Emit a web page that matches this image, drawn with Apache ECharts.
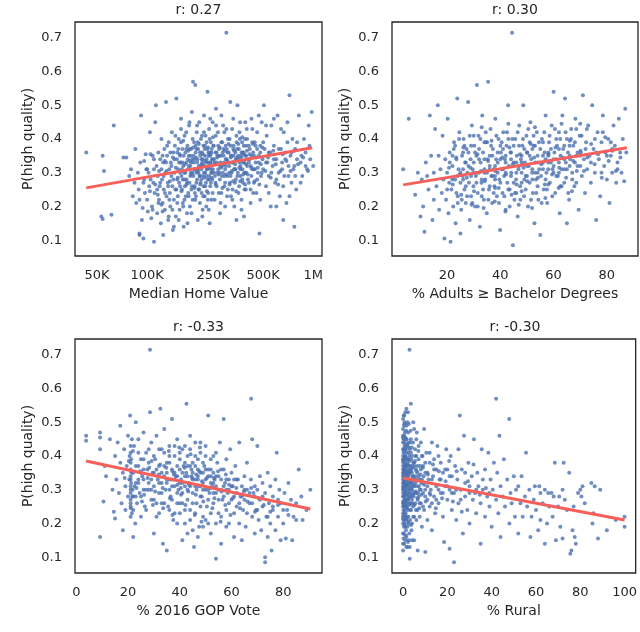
<!DOCTYPE html>
<html lang="en">
<head>
<meta charset="UTF-8">
<title>p-high-quality-scatter</title>
<style>
  html, body { margin: 0; padding: 0; background: #fff; }
  #chart { width: 640px; height: 632px; }
</style>
</head>
<body>
<div id="chart"></div>
<script src="https://cdn.jsdelivr.net/npm/echarts@6/dist/echarts.min.js"></script>
<script>
// ---- data ----
// panel 1: median home value (in K), P(high quality)
const homeValue = [
  [43,0.36],[53,0.17],[54,0.163],[54,0.35],[55,0.305],[63,0.44],[61,0.175],[72,0.345],[75,0.345],[78,0.29],[80,0.31],[82,0.23],[84,0.27],[85,0.37],[86,0.21],[88,0.3],[89,0.25],[90,0.12],[90,0.115],[91,0.33],[92,0.47],[93,0.16],[94,0.195],[95,0.105],[96,0.28],[97,0.24],[98,0.355],[99,0.31],
  [100,0.22],[101,0.185],[102,0.3],[103,0.26],[104,0.42],[105,0.355],[106,0.165],[107,0.2],[108,0.35],[109,0.27],[110,0.095],[110,0.31],[111,0.24],[112,0.45],[113,0.5],[114,0.32],[115,0.18],[116,0.29],[117,0.36],[118,0.22],[119,0.26],[120,0.34],[121,0.15],[122,0.4],[123,0.28],[124,0.21],[125,0.115],[125,0.33],[126,0.25],[127,0.37],[128,0.19],[129,0.3],[130,0.51],[131,0.23],[132,0.35],[133,0.27],[134,0.16],[135,0.39],[136,0.31],[137,0.24],[138,0.2],[139,0.33],[140,0.29],[141,0.42],[142,0.26],[143,0.13],[144,0.36],[145,0.22],[146,0.3],[147,0.38],[148,0.25],[149,0.17],
  [150,0.52],[151,0.34],[152,0.28],[153,0.23],[154,0.31],[155,0.4],[156,0.27],[157,0.19],[158,0.35],[159,0.33],[160,0.46],[161,0.29],[162,0.25],[163,0.37],[164,0.21],[165,0.32],[166,0.14],[167,0.3],[168,0.41],[169,0.26],[170,0.36],[171,0.23],[172,0.33],[173,0.28],[174,0.18],[175,0.38],[176,0.31],[177,0.24],[178,0.35],[179,0.44],[180,0.27],[181,0.2],[182,0.32],[183,0.3],[184,0.37],[185,0.25],[186,0.48],[187,0.34],[188,0.22],[189,0.57],[190,0.29],[191,0.33],[192,0.39],[193,0.26],[194,0.31],[195,0.56],[196,0.36],[197,0.23],[198,0.3],[199,0.42],[200,0.28],[201,0.34],[202,0.16],[203,0.37],[204,0.25],[205,0.32],[206,0.45],[207,0.29],[208,0.21],[209,0.35],[210,0.27],[211,0.4],[212,0.31],[213,0.24],[214,0.36],[215,0.33],[216,0.19],[217,0.29],[218,0.38],[219,0.26],[220,0.47],[221,0.32],[222,0.23],[223,0.35],[224,0.3],[225,0.41],[226,0.27],[227,0.2],[228,0.34],[229,0.31],[230,0.37],[231,0.54],[232,0.28],[233,0.24],[234,0.36],[235,0.32],[236,0.43],[237,0.29],[238,0.15],[239,0.35],[240,0.26],[241,0.33],[242,0.39],[243,0.3],[244,0.22],[245,0.37],[246,0.34],[247,0.28],[248,0.45],[249,0.31],
  [252,0.38],[255,0.33],[258,0.27],[260,0.49],[262,0.36],[265,0.3],[267,0.42],[270,0.24],[272,0.35],[275,0.32],[277,0.21],[280,0.39],[282,0.29],[285,0.36],[287,0.44],[290,0.33],[292,0.26],[295,0.31],[297,0.38],[300,0.715],[301,0.34],[303,0.23],[305,0.29],[307,0.4],[310,0.36],[312,0.32],[315,0.27],[317,0.51],[320,0.35],[322,0.3],[325,0.43],[327,0.25],[330,0.33],[332,0.38],[335,0.2],[337,0.31],[340,0.36],[342,0.28],[345,0.41],[347,0.34],[350,0.5],[352,0.3],[355,0.24],[357,0.37],[360,0.33],[363,0.45],[365,0.29],[368,0.35],[370,0.22],[373,0.39],[375,0.31],[378,0.27],[380,0.36],[383,0.17],[385,0.33],[388,0.4],[390,0.3],[393,0.25],[395,0.35],[398,0.43],[400,0.32],[405,0.28],[410,0.38],[415,0.34],[420,0.21],[425,0.46],[430,0.31],[435,0.36],[440,0.27],[445,0.39],[450,0.33],[455,0.24],[460,0.42],[465,0.3],[470,0.35],[475,0.12],[480,0.38],[485,0.29],[490,0.45],[495,0.34],
  [500,0.31],[505,0.5],[510,0.37],[520,0.26],[525,0.41],[530,0.33],[540,0.29],[550,0.36],[555,0.2],[560,0.44],[570,0.32],[580,0.38],[590,0.27],[600,0.34],[610,0.47],[620,0.3],[630,0.23],[640,0.37],[650,0.33],[660,0.16],[665,0.42],[670,0.29],[680,0.36],[690,0.21],[700,0.39],[710,0.32],[720,0.53],[730,0.35],[740,0.27],[750,0.4],[760,0.31],[770,0.14],[780,0.37],[790,0.25],[800,0.34],[820,0.47],[840,0.33],[860,0.29],[880,0.4],[900,0.36],[920,0.31],[940,0.44],[960,0.34],[980,0.48],[1000,0.32],
  [152,0.36],[158,0.3],[163,0.33],[168,0.28],[172,0.37],[178,0.32],[183,0.35],[188,0.3],[193,0.34],[198,0.37],[203,0.31],[208,0.29],[213,0.34],[218,0.32],[223,0.38],[228,0.29],[233,0.33],[238,0.36],[243,0.31],[248,0.34],[253,0.3],[258,0.36],[263,0.33],[268,0.38],[273,0.3],[278,0.35],[283,0.32],[288,0.37],[293,0.29],[298,0.34],[305,0.36],[312,0.3],[318,0.38],[325,0.33],[332,0.35],[340,0.31],[348,0.37],[356,0.34],[365,0.32],[375,0.36],[385,0.3],[395,0.38],[410,0.33],[425,0.35],[440,0.31],[460,0.37],
  [120,0.27],[122,0.31],[124,0.35],[126,0.29],[128,0.24],[130,0.33],[132,0.38],[134,0.26],[136,0.22],[138,0.36],[140,0.32],[142,0.19],[144,0.28],[146,0.34],[148,0.41],[150,0.25],[152,0.21],[154,0.37],[156,0.33],[158,0.26],[160,0.39],[162,0.31],[164,0.28],[166,0.35],[168,0.22],[170,0.3],[172,0.42],[174,0.27],[176,0.34],[178,0.23],[180,0.37],[182,0.29],[184,0.33],[186,0.26],[188,0.4],[190,0.35],[192,0.31],[194,0.24],[196,0.38],[198,0.27],[200,0.33],[202,0.39],[204,0.3],[206,0.25],[208,0.36],[210,0.32],[212,0.28],[214,0.41],[216,0.34],[218,0.23],[220,0.3],[222,0.37],[224,0.26],[226,0.33],[228,0.39],[230,0.31],[232,0.22],[234,0.35],[236,0.28],[238,0.4],[240,0.33],[242,0.27],[244,0.36],[246,0.3],[248,0.24],[250,0.38],[253,0.34],[256,0.29],[259,0.41],[262,0.26],[265,0.35],[268,0.31],[271,0.37],[274,0.28],[277,0.33],[280,0.24],[283,0.39],[286,0.3],[289,0.35],[292,0.42],[295,0.27],[298,0.32],[302,0.37],[306,0.25],[310,0.33],[314,0.4],[318,0.29],[322,0.35],[326,0.22],[330,0.37],[334,0.31],[338,0.27],[342,0.34],[346,0.39],[350,0.29],[354,0.35],[358,0.26],[362,0.4],[366,0.31],[370,0.36],[374,0.28],[378,0.33],[382,0.38],[386,0.25],[390,0.35],[395,0.3],[400,0.4],[405,0.34],[410,0.27],[415,0.37],[420,0.32],[425,0.29],[430,0.39],[435,0.24],[440,0.35],[445,0.31],[450,0.38],[460,0.28],[470,0.33],[480,0.36],[490,0.3],[500,0.39],[520,0.33],[540,0.36],[560,0.3],[580,0.34],[600,0.28],[620,0.37],[650,0.31],[680,0.34],[710,0.29],[740,0.36],[770,0.32],[800,0.39],[850,0.35],[900,0.32],[950,0.38],
  [105,0.28],[110,0.34],[115,0.25],[100,0.31],[95,0.27],[90,0.22],[108,0.19],[117,0.21],[135,0.17],[145,0.14],[155,0.16],[165,0.2],[175,0.15],[185,0.18],[195,0.22],[215,0.17],[235,0.19],[255,0.22],[275,0.18],[295,0.2],[320,0.23],[345,0.16],[370,0.19],[420,0.25],[480,0.22],[540,0.24],[600,0.2],[660,0.26],[720,0.23],[780,0.29],[840,0.27],
  [160,0.43],[180,0.45],[200,0.44],[220,0.42],[240,0.46],[260,0.44],[280,0.47],[300,0.43],[330,0.46],[360,0.42],[390,0.45],[430,0.43],[470,0.47],[520,0.44],[580,0.46],[640,0.43],[700,0.45],
  [131,0.305],[137,0.275],[143,0.345],[149,0.315],[153,0.285],[157,0.355],[161,0.245],[165,0.395],[169,0.325],[173,0.265],[177,0.365],[181,0.335],[185,0.295],[189,0.375],[193,0.255],[197,0.345],[201,0.305],[205,0.385],[209,0.265],[213,0.325],[217,0.355],[221,0.285],[225,0.335],[229,0.245],[233,0.375],[237,0.315],[241,0.355],[245,0.285],[249,0.405],[254,0.325],[259,0.265],[264,0.345],[269,0.295],[274,0.375],[279,0.315],[284,0.255],[289,0.325],[294,0.365],[299,0.295],[304,0.335],[309,0.385],[314,0.265],[319,0.345],[324,0.305],[329,0.275],[334,0.365],[339,0.325],[344,0.245],[349,0.345],[354,0.385],[359,0.315],[364,0.275],[369,0.345],[374,0.405],[379,0.295],[384,0.355],[389,0.265],[394,0.325],[399,0.365],[404,0.295],[414,0.355],[424,0.315],[434,0.385],[444,0.275],[454,0.345],[464,0.315],[474,0.265],[484,0.325],[494,0.375],[515,0.305],[535,0.345],[555,0.285],[575,0.365],[595,0.325],[615,0.265],[635,0.305],[655,0.355],[690,0.335],[730,0.305],[770,0.365],[810,0.325],[870,0.345],[930,0.305],[112,0.265],[118,0.305],[124,0.185],[128,0.335],[116,0.235],[104,0.245],[122,0.205],[96,0.335]
];

// panel 2: % adults with bachelor degree or more
const bachelor = [
  [3.5,0.31],[5.6,0.46],[8,0.235],[9,0.3],[10,0.17],[10.5,0.28],[11,0.2],[11.5,0.125],[12,0.33],[12.5,0.29],[13,0.25],[13.5,0.47],[14,0.35],[14.5,0.16],[15,0.3],[15,0.22],
  [15.5,0.43],[16,0.26],[16.5,0.5],[16.8,0.35],[17,0.19],[17.5,0.31],[18,0.24],[18.3,0.41],[18.6,0.28],[19,0.105],[19.3,0.34],[19.6,0.22],[20,0.3],[20.2,0.46],[20.5,0.18],[20.8,0.27],[21,0.36],[21.3,0.095],[21.6,0.25],[22,0.32],[22.3,0.2],[22.6,0.39],[23,0.28],[23.2,0.15],[23.5,0.34],[23.8,0.52],[24,0.23],[24.3,0.31],[24.6,0.42],[25,0.27],[25,0.12],[25.3,0.19],[25.6,0.35],[25.9,0.29],
  [26.2,0.4],[26.5,0.25],[26.8,0.33],[27,0.21],[27.3,0.37],[27.6,0.3],[27.9,0.51],[28.2,0.27],[28.5,0.16],[28.8,0.34],[29,0.23],[29.3,0.44],[29.6,0.31],[29.9,0.26],[30.2,0.38],[30.5,0.2],[30.8,0.29],[31,0.35],[31.2,0.56],[31.5,0.24],[31.8,0.41],[32,0.3],[32.3,0.14],[32.6,0.33],[32.9,0.27],[33.2,0.47],[33.5,0.36],[33.8,0.22],[34,0.31],[34.3,0.28],[34.6,0.39],[34.9,0.18],[35.2,0.34],[35.4,0.57],[35.7,0.25],[36,0.32],[36.3,0.43],[36.6,0.29],[36.9,0.21],[37.2,0.37],[37.5,0.31],[37.8,0.26],[38.1,0.46],[38.4,0.34],[38.7,0.23],[39,0.3],[39.3,0.4],[39.6,0.28],[39.9,0.13],
  [40.2,0.36],[40.5,0.31],[40.8,0.24],[41.1,0.42],[41.4,0.29],[41.7,0.34],[42,0.19],[42.3,0.38],[42.6,0.27],[42.9,0.5],[43.2,0.32],[43.5,0.25],[43.8,0.36],[44.1,0.3],[44.4,0.715],[44.7,0.085],[45,0.33],[45.3,0.22],[45.6,0.4],[45.9,0.28],[46.2,0.35],[46.5,0.17],[46.8,0.31],[47.1,0.44],[47.4,0.26],[47.7,0.34],[48,0.3],[48.3,0.38],[48.6,0.5],[48.9,0.23],[49.2,0.33],[49.5,0.29],[49.8,0.41],[50.1,0.36],[50.4,0.2],[50.7,0.32],[51,0.27],[51.3,0.45],[51.6,0.34],[51.9,0.3],[52.2,0.24],[52.5,0.38],[52.8,0.15],[53.1,0.33],[53.4,0.28],[53.7,0.42],[54,0.35],[54.3,0.22],[54.6,0.31],[55,0.115],[55,0.37],
  [55.3,0.29],[55.6,0.4],[56,0.33],[56.3,0.25],[56.6,0.36],[57,0.47],[57.3,0.3],[57.6,0.21],[58,0.35],[58.3,0.39],[58.6,0.27],[59,0.33],[59.3,0.44],[59.6,0.31],[60,0.54],[60.3,0.36],[60.6,0.24],[61,0.34],[61.3,0.38],[61.6,0.29],[62,0.42],[62.3,0.18],[62.6,0.35],[63,0.31],[63.3,0.47],[63.6,0.37],[64,0.27],[64.3,0.52],[64.6,0.33],[65,0.15],[65,0.4],[65.4,0.36],[65.8,0.22],[66.2,0.34],[66.6,0.43],[67,0.3],[67.4,0.38],[67.8,0.26],[68.2,0.46],[68.6,0.35],[69,0.32],[69.4,0.19],[69.8,0.41],
  [70.2,0.36],[70.6,0.29],[71,0.53],[71.4,0.34],[71.8,0.24],[72.2,0.39],[72.6,0.31],[73,0.44],[73.5,0.35],[74,0.27],[74.5,0.5],[75,0.37],[75.5,0.3],[76,0.16],[76.5,0.42],[77,0.34],[77.5,0.23],[78,0.39],[78.5,0.47],[79,0.32],[79.5,0.36],[80,0.28],[80.5,0.4],[81,0.21],[81.5,0.35],[82,0.3],[82.5,0.44],[83,0.38],[83.5,0.27],[84,0.33],[84.5,0.46],[85,0.36],[85.5,0.3],[86,0.4],[86.5,0.275],[86.9,0.49],[87.3,0.36],
  [22,0.35],[24,0.29],[26,0.31],[28,0.36],[30,0.33],[32,0.37],[34,0.3],[36,0.35],[38,0.32],[40,0.38],[42,0.33],[44,0.36],[46,0.3],[48,0.35],[50,0.32],[52,0.37],[54,0.33],[56,0.31],[58,0.36],[60,0.32],[62,0.37],[64,0.34],[66,0.38],[68,0.33],[33,0.28],[37,0.29],[41,0.31],[45,0.27],[49,0.28],[53,0.3],[57,0.34],[61,0.29],[47,0.38],[43,0.4],[39,0.36],[35,0.39],[27,0.33],[29,0.38],[31,0.3],[51,0.39],
  [20,0.25],[21,0.33],[22,0.28],[23,0.38],[24,0.21],[25,0.3],[26,0.36],[27,0.26],[28,0.32],[29,0.29],[30,0.41],[31,0.27],[32,0.34],[33,0.23],[34,0.39],[35,0.3],[36,0.26],[37,0.35],[38,0.29],[39,0.33],[40,0.27],[41,0.37],[42,0.3],[43,0.25],[44,0.34],[45,0.38],[46,0.24],[47,0.32],[48,0.27],[49,0.37],[50,0.29],[51,0.35],[52,0.28],[53,0.38],[54,0.26],[55,0.33],[56,0.39],[57,0.28],[58,0.31],[59,0.37],[60,0.3],[61,0.4],[62,0.33],[63,0.26],[64,0.38],[65,0.31],[66,0.35],[67,0.28],[68,0.39],[69,0.36],[70,0.32],[72,0.37],[74,0.33],[76,0.36],[78,0.3],[80,0.35],[82,0.37],[84,0.31],
  [23.5,0.24],[25.5,0.22],[27.5,0.23],[29.5,0.21],[31.5,0.2],[33.5,0.25],[35.5,0.22],[37.5,0.24],[39.5,0.21],[41.5,0.23],[43.5,0.2],[45.5,0.24],[47.5,0.22],[49.5,0.25],[51.5,0.22],[53.5,0.24],[55.5,0.21],[57.5,0.25],[59.5,0.23],[62.5,0.26],[65.5,0.24],[68.5,0.27],
  [22.5,0.37],[24.5,0.4],[26.5,0.38],[28.5,0.41],[30.5,0.36],[32.5,0.4],[34.5,0.42],[36.5,0.38],[38.5,0.41],[40.5,0.39],[42.5,0.42],[44.5,0.4],[46.5,0.42],[48.5,0.4],[50.5,0.43],[52.5,0.41],[54.5,0.39],[56.5,0.42],[58.5,0.41],[60.5,0.43],[62.5,0.4],[64.5,0.42],[66.5,0.4],[68.5,0.43],[70.5,0.41],[72.5,0.43],[75.5,0.4],[78.5,0.42],[81.5,0.39],
  [30,0.3],[34,0.34],[38,0.28],[42,0.35],[46,0.33],[50,0.36],[54,0.3],[58,0.33],[62,0.3],[66,0.32],[44,0.29],[48,0.33],[52,0.31],[56,0.35],[26,0.28],[36,0.31],[40,0.34],[60,0.34],[64,0.31],[70,0.35],
  [20.7,0.315],[22.1,0.265],[23.4,0.345],[24.8,0.295],[26.1,0.375],[27.4,0.285],[28.7,0.315],[30.1,0.245],[31.4,0.355],[32.7,0.305],[34.1,0.275],[35.4,0.335],[36.7,0.395],[38.1,0.305],[39.4,0.255],[40.7,0.345],[42.1,0.295],[43.4,0.375],[44.7,0.325],[46.1,0.265],[47.4,0.355],[48.7,0.315],[50.1,0.275],[51.4,0.385],[52.7,0.345],[54.1,0.285],[55.4,0.325],[56.7,0.265],[58.1,0.355],[59.4,0.295],[60.7,0.375],[62.1,0.315],[63.4,0.345],[64.7,0.285],[66.1,0.395],[67.4,0.335],[68.7,0.305],[70.1,0.365],[71.4,0.305],[72.7,0.345],[74.1,0.385],[75.4,0.325],[76.7,0.355],[78.1,0.285],[79.4,0.405],[80.7,0.335],[82.1,0.365],[83.4,0.305],[85.1,0.345],[29.2,0.205],[33.7,0.195],[37.9,0.215],[41.9,0.185],[46.9,0.205],[51.9,0.195],[56.9,0.225],[25.3,0.235],[44.2,0.235],[61.9,0.255],[66.9,0.245],[33,0.435],[43,0.445],[53,0.435],[63,0.445],[70,0.445],[38,0.255],[48,0.245],[58,0.265]
];

// panel 3: % 2016 GOP vote
const gopVote = [
  [3.8,0.46],[3.8,0.445],[9.2,0.47],[9.2,0.455],[9.2,0.42],[9.2,0.16],[10.5,0.265],[11,0.37],[11.5,0.34],[13,0.45],[14,0.3],[14.5,0.235],[15,0.215],[15,0.4],[15.5,0.33],
  [16,0.44],[16.5,0.29],[17,0.38],[17,0.49],[17.5,0.26],[18,0.35],[18,0.18],[18.5,0.42],[19,0.31],[19,0.24],[19.5,0.37],[20,0.28],[20,0.46],[20.5,0.33],[20.8,0.52],[21,0.3],[21,0.25],[21,0.36],[21,0.41],[21,0.29],[21,0.34],[21,0.27],[21.2,0.39],[21.2,0.32],[21.5,0.45],[21.5,0.23],[21.8,0.3],[22,0.35],[22,0.16],[22,0.28],[22.3,0.43],[22.5,0.31],[22.8,0.2],[23,0.37],[23,0.5],[23.5,0.26],[24,0.33],[24,0.45],[24.5,0.29],[25,0.39],[25,0.22],
  [25.5,0.34],[26,0.47],[26,0.3],[26.5,0.25],[27,0.41],[27.5,0.36],[28,0.32],[28.5,0.715],[28.5,0.53],[29,0.27],[29,0.44],[29.5,0.35],[30,0.17],[30,0.31],[30.5,0.39],[31,0.26],[31,0.46],[31.5,0.33],[32,0.23],[32,0.37],[32.5,0.54],[33,0.29],[33,0.42],[33.5,0.14],[34,0.34],[34,0.48],[34.5,0.3],[35,0.38],[35,0.12],[35.5,0.25],[36,0.33],[36,0.43],[36.5,0.28],[37,0.51],[37,0.36],[37.5,0.21],[38,0.31],[38,0.4],[38.5,0.34],[39,0.26],[39,0.45],[39.5,0.3],
  [40,0.36],[40,0.23],[40.5,0.33],[41,0.29],[41,0.42],[41.5,0.37],[42,0.31],[42,0.2],[42.6,0.555],[42.5,0.35],[43,0.27],[43,0.4],[43.5,0.32],[44,0.24],[44,0.46],[44.5,0.34],[45,0.29],[45,0.38],[45.5,0.13],[46,0.33],[46,0.44],[46.5,0.26],[47,0.36],[47,0.31],[47.5,0.19],[48,0.35],[48,0.41],[48.5,0.28],[49,0.32],[49,0.22],[49.5,0.37],[50,0.3],[50,0.43],[50.5,0.25],[51,0.34],[51,0.52],[51.5,0.29],[52,0.36],[52,0.17],[52.5,0.31],[53,0.4],[53,0.26],[53.5,0.33],[54,0.095],[54,0.29],[54.5,0.38],[55,0.23],[55,0.34],
  [55.5,0.44],[56,0.3],[56,0.14],[56.5,0.27],[57,0.36],[57,0.51],[57.5,0.32],[58,0.24],[58,0.39],[58.5,0.29],[59,0.33],[59,0.2],[59.5,0.42],[60,0.27],[60,0.35],[60.5,0.31],[61,0.23],[61,0.16],[61.5,0.37],[62,0.29],[62,0.25],[62.5,0.33],[63,0.2],[63,0.44],[63.5,0.28],[64,0.31],[64,0.15],[64.5,0.24],[65,0.34],[65,0.27],[65.5,0.19],[66,0.3],[66,0.38],[67.6,0.57],[67,0.26],[67.5,0.33],[68,0.22],[68,0.45],[68.5,0.29],[69,0.17],[69,0.31],[69.5,0.24],
  [70,0.3],[70,0.43],[70.5,0.21],[71,0.27],[71,0.34],[71.5,0.18],[72,0.25],[72,0.32],[73,0.1],[73,0.085],[73,0.29],[73.5,0.22],[74,0.16],[74,0.35],[74.5,0.26],[75,0.2],[75,0.31],[75.5,0.12],[76,0.24],[76,0.28],[77,0.18],[77,0.33],[77.5,0.41],[78,0.22],[78.5,0.3],[79,0.15],[79,0.26],[80,0.2],[80.5,0.29],[81,0.155],[81.5,0.24],[82,0.32],[83,0.27],[83.5,0.15],[84,0.22],[85,0.26],[85,0.21],[86,0.36],[87,0.28],[87.5,0.21],[89,0.24],[90.5,0.3],
  [30,0.35],[32,0.32],[34,0.37],[36,0.3],[38,0.35],[40,0.32],[41,0.35],[42,0.38],[43,0.34],[44,0.31],[44.5,0.36],[45,0.33],[46,0.37],[46.5,0.3],[47,0.34],[48,0.31],[49,0.35],[50,0.33],[51,0.3],[52,0.32],[53,0.35],[54,0.31],[56,0.33],[58,0.3],[35,0.33],[37,0.31],[39,0.37],[24,0.32],[26,0.36],[28,0.3],
  [21,0.38],[21,0.31],[21,0.26],[21,0.33],[21,0.43],[21,0.22],[21.4,0.35],[21.6,0.28],[20.6,0.4],[22,0.24],[23,0.32],[24,0.37],[25,0.28],[26,0.33],[27,0.3],[28,0.38],[29,0.33],[30,0.27],[31,0.36],[32,0.29],[33,0.35],[34,0.26],[35,0.32],[36,0.38],[37,0.27],[38,0.33],[39,0.29],[40,0.39],[41,0.26],[42,0.34],[43,0.3],[44,0.37],[45,0.26],[46,0.31],[47,0.39],[48,0.28],[49,0.3],[50,0.36],[51,0.27],[52,0.34],[53,0.29],[54,0.34],[55,0.27],[56,0.36],[57,0.28],[58,0.33],[59,0.26],[60,0.31],[61,0.28],[62,0.33],[63,0.26],[64,0.28],[65,0.3],[66,0.23],[67,0.29],[68,0.26],[69,0.28],[70,0.24],[72,0.28],[74,0.22],[76,0.25],[78,0.27],[80,0.24],
  [36,0.24],[38,0.23],[40,0.26],[42,0.24],[44,0.21],[46,0.23],[48,0.25],[50,0.21],[52,0.23],[54,0.2],[56,0.22],[58,0.19],[45,0.18],[47,0.16],[43,0.17],[41,0.15],[49,0.19],[51,0.2],[39,0.2],
  [33,0.32],[35,0.35],[37,0.33],[39,0.34],[41,0.32],[43,0.37],[45,0.35],[47,0.33],[49,0.38],[51,0.36],[53,0.32],[55,0.3],[57,0.31],[59,0.3],[61,0.33],
  [30,0.4],[32,0.42],[34,0.41],[36,0.4],[38,0.43],[40,0.41],[42,0.43],[44,0.42],[46,0.4],[48,0.44],[50,0.4],[52,0.39],[54,0.41],[26,0.39],[28,0.42],[24,0.41],[23,0.28],[25,0.35],[27,0.24],[29,0.3],[31,0.22],[33,0.26],
  [18.7,0.335],[20.3,0.385],[21.1,0.355],[21.1,0.245],[21.9,0.415],[23.3,0.305],[24.7,0.355],[26.2,0.285],[27.6,0.335],[29.1,0.385],[30.5,0.295],[31.9,0.345],[33.4,0.305],[34.8,0.365],[36.2,0.275],[37.7,0.345],[39.1,0.315],[40.5,0.285],[41.9,0.365],[43.3,0.295],[44.8,0.335],[46.2,0.285],[47.6,0.355],[49.1,0.265],[50.5,0.335],[51.9,0.305],[53.4,0.275],[54.8,0.355],[56.2,0.295],[57.6,0.255],[59.1,0.315],[60.5,0.275],[61.9,0.305],[63.3,0.245],[64.8,0.295],[66.2,0.265],[67.6,0.305],[69.1,0.235],[70.5,0.275],[72.5,0.255],[75,0.235],[78,0.255],[82,0.225],[42.2,0.255],[45.8,0.225],[48.4,0.205],[52.6,0.245],[55.8,0.205],[59.6,0.225],[37.2,0.225],[33.6,0.245],[29.6,0.255],[25.4,0.265],[35.8,0.415],[39.8,0.425],[44.2,0.405],[47.8,0.425],[28.2,0.365],[32.4,0.375],[46.4,0.345],[48.6,0.325],[43.6,0.315],[40.4,0.305],[37.2,0.355],[53.2,0.335],[57.8,0.345]
];

// panel 4: % rural
const rural = [
  [0,0.2],[0,0.26],[0,0.31],[0,0.35],[0,0.4],[0,0.44],[0,0.29],[0,0.33],[0,0.23],[0,0.37],[0,0.14],[0,0.48],[0.3,0.17],[0.3,0.25],[0.3,0.3],[0.3,0.34],[0.3,0.39],[0.3,0.42],[0.3,0.52],[0.5,0.21],[0.5,0.28],[0.5,0.32],[0.5,0.36],[0.5,0.46],[0.7,0.24],[0.7,0.3],[0.7,0.38],[0.7,0.43],[0.7,0.5],[1,0.19],[1,0.27],[1,0.31],[1,0.35],[1,0.4],[1,0.53],[1.2,0.23],[1.2,0.33],[1.2,0.37],[1.2,0.45],[1.5,0.16],[1.5,0.29],[1.5,0.34],[1.5,0.41],[1.5,0.49],[1.8,0.26],[1.8,0.32],[1.8,0.38],[1.8,0.22],[2,0.3],[2,0.36],[2,0.43],[2,0.13],[2.3,0.27],[2.3,0.33],[2.3,0.47],[2.5,0.2],[2.5,0.35],[2.5,0.39],[2.9,0.715],[3,0.095],[3,0.29],[3,0.31],[3,0.42],[3.2,0.24],[3.2,0.37],[3.5,0.555],[3.5,0.33],[3.5,0.45],[3.8,0.28],[3.8,0.18],[4,0.35],[4,0.4],[4.3,0.26],[4.3,0.31],[4.6,0.22],[4.6,0.38],[4.6,0.5],
  [5,0.33],[5,0.15],[5.4,0.29],[5.4,0.42],[5.8,0.36],[5.8,0.24],[6.2,0.31],[6.2,0.47],[6.6,0.27],[6.6,0.12],[7,0.34],[7,0.39],[7.5,0.22],[7.5,0.3],[8,0.44],[8,0.26],[8.5,0.33],[8.5,0.19],[9,0.37],[9,0.29],[9.5,0.48],[9.5,0.24],[10,0.115],[10,0.35],[10,0.3],[10.5,0.41],[11,0.27],[11,0.21],[11.5,0.33],[12,0.38],[12,0.25],[12.5,0.3],[13,0.44],[13,0.18],[13.5,0.34],[14,0.28],[14,0.39],[14.5,0.23],[15,0.31],[15,0.36],
  [15.5,0.43],[16,0.26],[16.5,0.33],[17,0.29],[17,0.38],[18,0.22],[18,0.35],[18.5,0.145],[19,0.31],[19.5,0.42],[20,0.27],[20,0.36],[21,0.125],[21,0.3],[21.5,0.4],[22,0.24],[22,0.34],[23,0.085],[23,0.29],[23.5,0.37],[24,0.21],[24.5,0.33],[25,0.26],[25,0.42],[25.6,0.52],[26,0.3],[26.5,0.36],[27,0.17],[27.5,0.46],[28,0.28],[28,0.32],[29,0.24],[29.5,0.38],[30,0.31],[30,0.2],[31,0.34],[31.5,0.27],[32,0.45],[32.5,0.29],[33,0.23],[33.5,0.35],[34,0.31],[35,0.14],[35,0.26],[35.5,0.42],[36,0.3],[37,0.22],[37,0.36],[38,0.28],[38.5,0.41],[39,0.25],[39.5,0.33],
  [40,0.19],[40.5,0.3],[41,0.38],[42,0.57],[42,0.27],[42.5,0.35],[43,0.23],[43.5,0.46],[44,0.31],[44,0.16],[45,0.28],[45.5,0.39],[46,0.25],[47,0.33],[47.9,0.51],[48,0.2],[48.5,0.29],[49,0.26],[50,0.34],[50.5,0.22],[51,0.3],[52,0.17],[52,0.31],[53,0.26],[53.5,0.34],[54,0.22],[55,0.28],[55.5,0.41],[56,0.25],[57,0.3],[57.5,0.16],[58,0.22],[59,0.27],[59.5,0.31],
  [60,0.24],[61,0.18],[61.5,0.31],[62,0.29],[62,0.21],[63,0.26],[64,0.3],[64,0.14],[65,0.2],[65.5,0.29],[66,0.25],[67,0.29],[67.5,0.22],[68,0.28],[68.5,0.38],[69,0.15],[70,0.25],[70.5,0.28],[71,0.19],[72,0.3],[72,0.155],[72.5,0.38],[73,0.27],[74,0.24],[75,0.35],[75.5,0.11],[76,0.12],[76.5,0.18],[77,0.25],[77.5,0.16],[78,0.14],[79,0.29],[80,0.3],[80.5,0.28],[81,0.31],[82,0.26],[85,0.32],[85.5,0.2],[86,0.23],[86.5,0.31],[88,0.155],[89,0.3],[92,0.18],[96,0.21],[100,0.22],[100,0.19],
  [0.2,0.32],[0.4,0.36],[0.6,0.27],[0.8,0.34],[1.1,0.29],[1.3,0.39],[1.6,0.31],[1.9,0.35],[2.2,0.28],[2.4,0.41],[2.7,0.32],[3.1,0.36],[3.4,0.26],[3.7,0.39],[4.1,0.3],[4.4,0.34],[4.8,0.28],[5.2,0.37],[5.6,0.32],[6,0.4],[6.4,0.35],[6.8,0.29],[7.2,0.31],[7.7,0.37],[8.2,0.32],[8.8,0.4],[9.3,0.34],[0.1,0.38],[0.9,0.42],[1.4,0.25],
  [0,0.22],[0,0.25],[0,0.28],[0,0.3],[0,0.32],[0,0.34],[0,0.36],[0,0.39],[0,0.42],[0,0.46],[0,0.17],[0.2,0.21],[0.2,0.24],[0.2,0.28],[0.2,0.35],[0.2,0.41],[0.2,0.45],[0.4,0.19],[0.4,0.26],[0.4,0.31],[0.4,0.33],[0.4,0.39],[0.4,0.49],[0.6,0.23],[0.6,0.3],[0.6,0.35],[0.6,0.37],[0.6,0.44],[0.8,0.2],[0.8,0.26],[0.8,0.29],[0.8,0.32],[0.8,0.4],[0.8,0.47],[1,0.22],[1,0.25],[1,0.29],[1,0.33],[1,0.37],[1,0.43],[1.3,0.18],[1.3,0.27],[1.3,0.31],[1.3,0.35],[1.3,0.42],[1.6,0.21],[1.6,0.25],[1.6,0.33],[1.6,0.37],[1.6,0.45],[2,0.19],[2,0.24],[2,0.27],[2,0.33],[2,0.39],[2,0.5],[2.4,0.22],[2.4,0.3],[2.4,0.34],[2.4,0.37],[2.4,0.44],[2.8,0.17],[2.8,0.26],[2.8,0.29],[2.8,0.35],[2.8,0.4],[3.2,0.21],[3.2,0.28],[3.2,0.32],[3.2,0.44],[3.6,0.24],[3.6,0.3],[3.6,0.36],[3.6,0.41],[4,0.2],[4,0.27],[4,0.32],[4,0.37],[4.5,0.25],[4.5,0.29],[4.5,0.34],[4.5,0.44],[5,0.22],[5,0.31],[5,0.38],[5.5,0.26],[5.5,0.34],[5.5,0.4],[6,0.21],[6,0.29],[6,0.33],[6.5,0.37],[6.5,0.24],[7,0.28],[7,0.43],[7.5,0.33],[7.5,0.26],[8,0.36],[8,0.3],[8.5,0.4],[9,0.25],[9,0.32],
  [10,0.28],[10,0.38],[11,0.31],[11,0.35],[12,0.29],[12,0.41],[13,0.26],[13,0.33],[14,0.36],[15,0.27],[16,0.3],[16,0.4],[17,0.33],[18,0.29],[19,0.36],[20,0.31],[21,0.34],[22,0.29],[24,0.3],[26,0.27],[28,0.35],[30,0.29],[33,0.3],[36,0.33],[39,0.29],
  [1,0.15],[0.5,0.14],[1.5,0.13],[2.5,0.15],[0,0.12],[3,0.13],[4,0.15],[0.5,0.52],[1.5,0.54],[0,0.51],[2.2,0.53],[5,0.48],[6,0.45],
  [0,0.265],[0,0.385],[0,0.215],[0,0.455],[0.1,0.305],[0.2,0.345],[0.3,0.225],[0.4,0.415],[0.5,0.255],[0.6,0.325],[0.7,0.195],[0.8,0.365],[0.9,0.285],[1,0.455],[1.1,0.345],[1.2,0.265],[1.3,0.395],[1.4,0.215],[1.5,0.315],[1.6,0.285],[1.7,0.355],[1.8,0.435],[1.9,0.245],[2.1,0.315],[2.2,0.375],[2.3,0.205],[2.5,0.275],[2.6,0.345],[2.7,0.425],[2.9,0.255],[3,0.385],[3.2,0.305],[3.4,0.355],[3.6,0.195],[3.8,0.325],[4,0.425],[4.2,0.285],[4.5,0.365],[4.8,0.315],[5.1,0.255],[5.4,0.385],[5.7,0.295],[6.1,0.355],[6.5,0.275],[6.9,0.415],[7.3,0.245],[7.8,0.345],[8.3,0.285],[8.9,0.365],[9.5,0.315],[10.2,0.265],[11.2,0.345],[12.3,0.285],[13.5,0.375],[14.8,0.245],[16.2,0.355],[17.6,0.275],[19.2,0.325],[20.8,0.385],[22.5,0.265],[24.2,0.355],[26.5,0.235],[29.3,0.325],[31.8,0.375],[34.6,0.285],[37.4,0.305],[0.2,0.155],[1.2,0.165],[2.2,0.145],[0.6,0.495],[1.4,0.475],[2.6,0.495],[3.4,0.475]
];

// fitted lines (end points)
const fitHome = [[43,0.255],[986,0.374]];
const fitBachelor = [[3.5,0.264],[87.5,0.374]];
const fitGop = [[3.8,0.385],[90.5,0.243]];
const fitRural = [[0,0.335],[100,0.21]];

const titles = ['r: 0.27', 'r: 0.30', 'r: -0.33', 'r: -0.30'];
const xNames = ['Median Home Value', '% Adults \u2265 Bachelor Degrees', '% 2016 GOP Vote', '% Rural'];
const yTicks = [0.1, 0.2, 0.3, 0.4, 0.5, 0.6, 0.7];
const homeTicks = [50, 100, 250, 500, 1000]; // K
const bachelorTicks = [20, 40, 60, 80];
const gopTicks = [0, 20, 40, 60, 80];
const ruralTicks = [0, 20, 40, 60, 80, 100];

// ---- chart ----
const chart = echarts.init(document.getElementById('chart'));
const FONT = 'DejaVu Sans';
const INK = '#262626';
const DOT = '#4c72b0';
const FIT = '#f7605a';

// home value axis is log scaled: map to log10 of K
const lg = v => Math.log10(v);

const grids = [
  { left: 75, top: 22, width: 247, height: 234 },
  { left: 392, top: 22, width: 246, height: 234 },
  { left: 75, top: 339, width: 247, height: 234 },
  { left: 392, top: 339, width: 246, height: 234 }
].map(g => Object.assign(g, { show: true, borderColor: INK, borderWidth: 1.3, backgroundColor: 'transparent' }));

const xRanges = [
  [lg(36.8), lg(1130)],
  [-0.7, 91.7],
  [-0.5, 95],
  [-5, 105]
];
const xTickVals = [homeTicks.map(lg), bachelorTicks, gopTicks, ruralTicks];
const fmtHome = v => {
  const k = Math.round(Math.pow(10, v));
  return k >= 1000 ? (k / 1000) + 'M' : k + 'K';
};

const xAxes = grids.map((g, i) => ({
  type: 'value',
  gridIndex: i,
  min: xRanges[i][0],
  max: xRanges[i][1],
  name: xNames[i],
  nameLocation: 'middle',
  nameGap: 31,
  nameTextStyle: { fontFamily: FONT, fontSize: 14, color: INK },
  axisLine: { show: false },
  axisTick: { show: false },
  splitLine: { show: false },
  axisLabel: {
    customValues: xTickVals[i],
    formatter: i === 0 ? fmtHome : (v => String(Math.round(v))),
    margin: 13,
    fontFamily: FONT, fontSize: 13, color: INK
  }
}));

const yAxes = grids.map((g, i) => ({
  type: 'value',
  gridIndex: i,
  min: 0.053,
  max: 0.747,
  name: 'P(high quality)',
  nameLocation: 'middle',
  nameGap: 40,
  nameTextStyle: { fontFamily: FONT, fontSize: 14, color: INK },
  axisLine: { show: false },
  axisTick: { show: false },
  splitLine: { show: false },
  axisLabel: {
    customValues: yTicks,
    formatter: v => v.toFixed(1),
    margin: 13,
    fontFamily: FONT, fontSize: 13, color: INK
  }
}));

const scatterData = [
  homeValue.map(p => [lg(p[0]), p[1]]),
  bachelor,
  gopVote,
  rural
];
const fitData = [
  fitHome.map(p => [lg(p[0]), p[1]]),
  fitBachelor,
  fitGop,
  fitRural
];

const series = [];
scatterData.forEach((d, i) => {
  series.push({
    type: 'scatter',
    xAxisIndex: i, yAxisIndex: i,
    data: d,
    symbolSize: 4,
    itemStyle: { color: DOT, opacity: 0.8 },
    silent: true,
    z: 2
  });
  series.push({
    type: 'line',
    xAxisIndex: i, yAxisIndex: i,
    data: fitData[i],
    showSymbol: false,
    lineStyle: { color: FIT, width: 3 },
    silent: true,
    z: 3
  });
});

const titleCfg = titles.map((t, i) => ({
  text: t,
  left: grids[i].left + grids[i].width / 2,
  top: grids[i].top - 19,
  textAlign: 'center',
  padding: 0,
  textStyle: { fontFamily: FONT, fontSize: 14, fontWeight: 'normal', color: INK }
}));

chart.setOption({
  animation: false,
  backgroundColor: '#fff',
  title: titleCfg,
  grid: grids,
  xAxis: xAxes,
  yAxis: yAxes,
  series: series
});
</script>
</body>
</html>
